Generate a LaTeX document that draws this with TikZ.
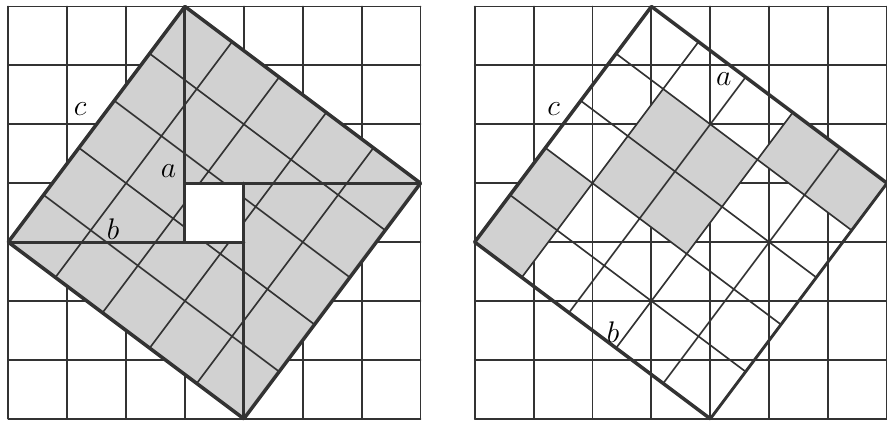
\documentclass[tikz,border=0pt]{standalone}
\usepackage{tikz}
\usetikzlibrary{positioning}
\colorlet{ink}{black!80}
\colorlet{cellgray}{black!18}
\tikzset{sq/.style={ink, line width=.9pt},
  tilt/.style={ink, line width=.8pt},
  leg/.style={ink, line width=1.4pt},
  side/.style={ink, line width=1.7pt},
  cell/.style={fill=cellgray},
  lab/.style={font=\Large}}

\begin{document}
\begin{tikzpicture}[line join=round, line cap=round]
\useasboundingbox (-0.14,-0.07) rectangle (14.92,7.11);
% left: four triangles round a hole
\draw[sq] (0,0) grid (7,7);
\begin{scope}[cm={0.8,-0.6,-0.6,-0.8,(3,7)}]
\fill[cell] (0,0) rectangle (5,5);
\draw[tilt] (0,0) grid (5,5);
\end{scope}
\fill[white] (3,3) rectangle (4,4);
\draw[leg] (3,7)--(3,3);
\draw[leg] (0,3)--(4,3);
\draw[leg] (4,0)--(4,4);
\draw[leg] (3,4)--(7,4);
\draw[side] (3,7)--(7,4)--(4,0)--(0,3)--cycle;
\node[lab] (lc) at (1.22,5.25) {$c$};
\node[lab] (la) at (2.72,4.2) {$a$};
\node[lab] (lb) at (1.78,3.22) {$b$};
% right: c square on the grid
\begin{scope}[xshift=7.92cm]
\draw[sq] (0,0) grid (7,7);
\begin{scope}[cm={0.8,-0.6,-0.6,-0.8,(3,7)}]
\foreach \s/\t in {0/3,0/4,1/1,1/2,2/1,2/2,3/0,4/0}
  \fill[cell] (\s,\t) rectangle ++(1,1);
\draw[tilt] (0,0) grid (5,5);
\draw[side] (0,5)--(0,0)--(5,0);
\draw[side] (0,5)--(5,5);
\draw[leg] (5,0)--(5,5);
\end{scope}
\node[lab] (rc) at (1.34,5.25) {$c$};
\node[lab] (ra) at (4.23,5.76) {$a$};
\node[lab] (rb) at (2.35,1.47) {$b$};
\end{scope}
\end{tikzpicture}
\end{document}
